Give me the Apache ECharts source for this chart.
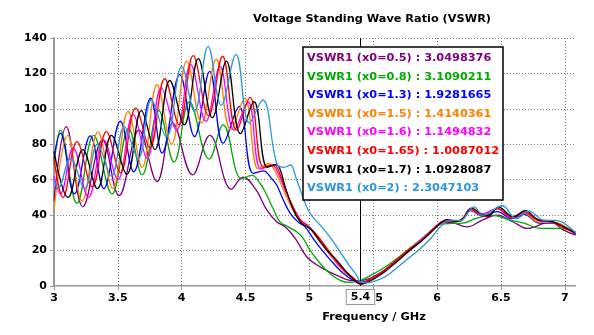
<!DOCTYPE html>
<html>
<head>
<meta charset="utf-8">
<title>VSWR</title>
<script src="https://cdn.jsdelivr.net/npm/echarts@6/dist/echarts.min.js"></script>
<style>
html,body{margin:0;padding:0;background:#fff;}
#main{width:594px;height:335px;}
</style>
</head>
<body>
<div id="main"></div>
<script>
// series labels, colours and the value each one has at the marker
var names = ['VSWR1 (x0=0.5)','VSWR1 (x0=0.8)','VSWR1 (x0=1.3)','VSWR1 (x0=1.5)','VSWR1 (x0=1.6)','VSWR1 (x0=1.65)','VSWR1 (x0=1.7)','VSWR1 (x0=2)'];
var colors = ['#800080','#00AA00','#0000FF','#FF8000','#FF00FF','#FF0000','#000000','#2896DC'];
var markerX = 5.4;
var markerVals = ['3.0498376','3.1090211','1.9281665','1.4140361','1.1494832','1.0087012','1.0928087','2.3047103'];

// [frequency GHz, VSWR]
var vswr05 = [[3.0,48],[3.096,90],[3.226,44.7],[3.38,82.5],[3.509,51],[3.666,88],[3.807,59],[3.93,92],[4.085,62.7],[4.22,85],[4.39,54.6],[4.48,61.5],[4.58,54.5],[4.666,43],[4.744,36.3],[4.81,33.4],[4.89,26.8],[4.98,16.4],[5.084,10.8],[5.215,6],[5.345,3],[5.4,3.05],[5.48,4.5],[5.6,9.5],[5.72,16],[5.85,24],[5.95,30],[6.03,35.5],[6.1,36],[6.236,33.4],[6.35,37],[6.47,40],[6.6,36],[6.706,32.5],[6.89,36.2],[6.98,32],[7.085,28.7]];
var vswr08 = [[3.0,68],[3.05,88],[3.18,46.7],[3.31,85],[3.454,52],[3.585,89],[3.69,62.7],[3.82,99],[3.94,70],[4.06,104],[4.215,71.6],[4.325,91],[4.47,60.5],[4.55,62.5],[4.613,58],[4.666,51.4],[4.72,43],[4.77,36.2],[4.835,33.4],[4.9,30.6],[4.953,26.8],[5.005,20.2],[5.084,12.7],[5.16,7],[5.24,3.2],[5.32,2],[5.4,3.11],[5.48,6],[5.6,11],[5.72,17.5],[5.85,25],[5.95,31],[6.03,35],[6.12,35.3],[6.2,35.5],[6.3,38],[6.42,40],[6.58,37],[6.68,35.5],[6.81,32.5],[6.97,32.5],[7.085,30.5]];
var vswr13 = [[3.0,72],[3.05,86.3],[3.16,52],[3.284,84.8],[3.39,55],[3.52,93],[3.624,64.5],[3.757,106],[3.846,75],[3.985,119.3],[4.10,84.4],[4.22,121.2],[4.325,80.6],[4.45,101.4],[4.56,63.6],[4.64,65],[4.7,61],[4.744,57],[4.796,48.5],[4.85,41],[4.91,36.2],[4.966,33.4],[5.03,26.8],[5.11,19.3],[5.19,12.7],[5.267,7],[5.345,3.2],[5.4,1.93],[5.48,4],[5.6,9.5],[5.72,16.5],[5.85,24],[5.95,30.5],[6.03,35.5],[6.1,37],[6.18,36.5],[6.26,42.5],[6.36,39.5],[6.47,42],[6.59,38],[6.68,40.5],[6.8,35.5],[6.92,35.5],[7.085,29]];
var vswr15 = [[3.0,43],[3.108,85],[3.22,48],[3.344,87],[3.46,55],[3.58,98.5],[3.69,67],[3.807,113.6],[3.92,80],[4.04,127],[4.155,92],[4.27,128],[4.385,88],[4.495,106],[4.6,66],[4.68,69],[4.75,62],[4.81,52],[4.87,43],[4.93,37],[4.99,33.5],[5.05,28],[5.12,21.5],[5.2,14],[5.28,7.5],[5.35,3.5],[5.4,1.41],[5.48,4],[5.6,9],[5.72,16],[5.85,24],[5.95,30],[6.03,35.5],[6.1,37],[6.18,36.5],[6.26,43],[6.35,40],[6.47,43.5],[6.59,38.5],[6.68,41],[6.8,36],[6.91,36],[7.085,29.5]];
var vswr16 = [[3.0,62],[3.05,52],[3.15,78],[3.27,50],[3.39,82.5],[3.5,60],[3.62,96.7],[3.73,72],[3.84,111.8],[3.96,88],[4.07,125],[4.19,93],[4.30,124],[4.41,88],[4.52,104],[4.62,66],[4.71,68],[4.76,63],[4.81,54],[4.87,45],[4.93,37.5],[4.99,34],[5.05,29],[5.12,22.5],[5.2,14.5],[5.28,8],[5.35,4],[5.4,1.15],[5.48,4],[5.6,9.5],[5.72,16.5],[5.85,24.5],[5.96,31.5],[6.05,36.5],[6.14,36.5],[6.2,38],[6.26,43.5],[6.34,40.5],[6.47,43.5],[6.59,38.5],[6.68,41.5],[6.79,37],[6.9,36],[7.085,29.5]];
var vswr165 = [[3.0,72],[3.07,50],[3.18,81.5],[3.30,56],[3.41,87.2],[3.52,64],[3.64,100.5],[3.75,78],[3.867,117],[3.98,91],[4.09,130],[4.21,96],[4.32,129.7],[4.43,88],[4.535,106.5],[4.64,67],[4.72,68.5],[4.765,64],[4.80,57],[4.875,44],[4.93,37],[4.99,33.8],[5.05,29.5],[5.12,23],[5.2,15],[5.28,8.5],[5.35,4.2],[5.4,1.01],[5.48,4],[5.555,7],[5.633,11.7],[5.71,16.4],[5.79,21.2],[5.87,25],[5.987,33.4],[6.08,37.2],[6.14,36.2],[6.2,38],[6.26,43.4],[6.33,41],[6.39,39],[6.47,43.8],[6.59,39],[6.68,41.9],[6.785,37.2],[6.89,36.2],[7.03,31.5],[7.085,29.7]];
var vswr17 = [[3.0,76],[3.11,50],[3.226,77],[3.34,55],[3.45,85],[3.57,63],[3.684,99],[3.79,77],[3.907,116],[4.02,91],[4.13,128.4],[4.24,95],[4.35,127],[4.46,86],[4.566,104],[4.67,67],[4.74,68.5],[4.775,65],[4.81,56],[4.875,42.9],[4.927,36.2],[4.98,33.4],[5.02,31.5],[5.084,25],[5.137,20.2],[5.215,14.5],[5.29,8],[5.35,3.5],[5.4,1.09],[5.48,3],[5.56,6.5],[5.64,11],[5.72,16],[5.8,21],[5.88,25.5],[5.99,33],[6.08,37.5],[6.15,36.5],[6.21,38.5],[6.27,44],[6.34,41],[6.4,39.5],[6.48,44.5],[6.6,39],[6.69,42.5],[6.79,37.5],[6.9,36.5],[7.03,32],[7.085,30]];
var vswr2 = [[3.0,60],[3.03,55],[3.13,72],[3.24,55],[3.34,80],[3.45,62],[3.55,90],[3.66,72],[3.763,105],[3.88,84],[4.0,124],[4.1,98.5],[4.207,135.3],[4.31,102],[4.425,130.6],[4.53,92],[4.634,105],[4.744,69.3],[4.8,67],[4.85,68.3],[4.90,60],[4.953,49.5],[5.005,41],[5.084,34.4],[5.16,27.7],[5.24,19.3],[5.32,10.8],[5.37,6],[5.4,2.3],[5.45,1.8],[5.5,2.5],[5.6,5.5],[5.74,13.6],[5.87,21.2],[5.95,26.8],[6.026,33.4],[6.10,37.2],[6.18,37],[6.29,44.7],[6.36,40],[6.51,45.3],[6.62,38],[6.72,42.3],[6.84,37],[6.93,37],[7.085,30]];

var allData = [vswr05, vswr08, vswr13, vswr15, vswr16, vswr165, vswr17, vswr2];
var FONT = '"DejaVu Sans", Verdana, sans-serif';

var series = [];
for (var i = 0; i < allData.length; i++) {
	var s = {
		name: names[i],
		type: 'line',
		xAxisIndex: 0,
		data: allData[i],
		showSymbol: false,
		smooth: 0.4,
		lineStyle: {color: colors[i], width: 1.3},
		itemStyle: {color: colors[i]},
		z: 2 + i
	};
	if (i == 0) {
		s.markLine = {
			symbol: 'none',
			silent: true,
			animation: false,
			lineStyle: {color: '#000', width: 1, type: 'solid'},
			label: {
				show: true, position: 'start', formatter: String(markerX),
				color: '#000', fontFamily: FONT, fontWeight: 'bold', fontSize: 11,
				backgroundColor: '#fff', borderColor: '#999', borderWidth: 1,
				padding: [2, 4, 1, 4], distance: 4
			},
			data: [{xAxis: markerX}]
		};
	}
	series.push(s);
}

// value box in the top right
var graphic = [{
	type: 'rect', z: 100,
	shape: {x: 303, y: 47, width: 200, height: 153},
	style: {fill: '#fff', stroke: '#000', lineWidth: 1.5}
}];
for (var j = 0; j < names.length; j++) {
	graphic.push({
		type: 'text', z: 101, x: 307, y: 58 + j * 18.6,
		style: {
			text: names[j] + ' : ' + markerVals[j],
			fill: colors[j], font: 'bold 11.3px ' + FONT,
			verticalAlign: 'middle', textVerticalAlign: 'middle'
		}
	});
}

var myChart = echarts.init(document.getElementById('main'));
myChart.setOption({
	animation: false,
	backgroundColor: '#fff',
	title: [{
		text: 'Voltage Standing Wave Ratio (VSWR)',
		left: 372, top: 14, textAlign: 'center', padding: 0,
		textStyle: {fontFamily: FONT, fontWeight: 'bold', fontSize: 11.3, color: '#000'}
	}, {
		text: 'Frequency / GHz',
		left: 374, top: 312, textAlign: 'center', padding: 0,
		textStyle: {fontFamily: FONT, fontWeight: 'bold', fontSize: 11.3, color: '#000'}
	}],
	grid: {left: 54, right: 19, top: 38, bottom: 49},
	xAxis: [{
		type: 'value', min: 3, max: 7.08, interval: 0.5,
		axisLine: {onZero: false, lineStyle: {color: '#999', width: 2}},
		axisTick: {show: true, length: 4, lineStyle: {color: '#999'}},
		axisLabel: {showMaxLabel: false, margin: 7, color: '#000', fontFamily: FONT, fontWeight: 'bold', fontSize: 11},
		splitLine: {show: true, showMaxLine: false, lineStyle: {color: '#777', type: [1, 2], width: 1}}
	}, {
		type: 'value', position: 'top', min: 3, max: 7.08,
		axisLine: {show: true, lineStyle: {color: '#ccc', width: 1}},
		axisTick: {show: false}, axisLabel: {show: false}, splitLine: {show: false}
	}],
	yAxis: {
		type: 'value', min: 0, max: 140, interval: 20,
		axisLine: {show: true, lineStyle: {color: '#999', width: 2}},
		axisTick: {show: true, length: 4, lineStyle: {color: '#999'}},
		axisLabel: {margin: 7, color: '#000', fontFamily: FONT, fontWeight: 'bold', fontSize: 11},
		splitLine: {show: true, lineStyle: {color: '#777', type: [1, 2], width: 1}}
	},
	graphic: graphic,
	series: series
});
</script>
</body>
</html>
